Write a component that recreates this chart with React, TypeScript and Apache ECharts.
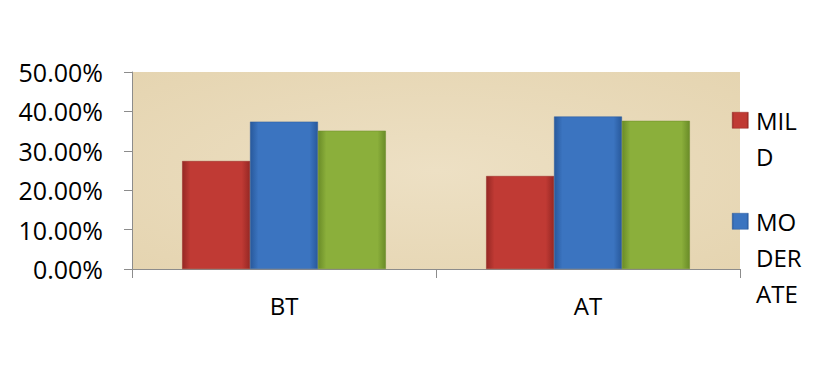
import React, { useEffect, useRef } from "react";
import * as echarts from "echarts";

const categories = ["BT", "AT"];
const seriesNames = ["MILD", "MODERATE", "SEVERE"];
const mildValues = [0.274, 0.236];
const moderateValues = [0.374, 0.387];
const severeValues = [0.351, 0.376];
const legendNames = ["MILD", "MODERATE"];
const legendLabels = ["MIL\nD", "MO\nDER\nATE"];

const baseColors = ["#C03A34", "#3B74C0", "#8BAF3B"];
const edgeColors = ["#962824", "#28599C", "#6A8C28"];

const FONT = "'Open Sans', 'DejaVu Sans', sans-serif";

export default function App() {
  const ref = useRef<HTMLDivElement>(null);
  useEffect(() => {
    document.body.style.margin = "0";
    const chart = echarts.init(ref.current!, null, { renderer: "svg" });
    const values = [mildValues, moderateValues, severeValues];
    const grad = (i: number) =>
      new echarts.graphic.LinearGradient(0, 0, 1, 0, [
        { offset: 0, color: edgeColors[i] },
        { offset: 0.12, color: baseColors[i] },
        { offset: 0.88, color: baseColors[i] },
        { offset: 1, color: edgeColors[i] },
      ]);
    const legendGraphics: any[] = [];
    const legendTops = [112, 213];
    legendNames.forEach((n, i) => {
      legendGraphics.push({
        type: "rect",
        left: 732,
        top: legendTops[i],
        shape: { width: 16, height: 16 },
        style: { fill: grad(i), stroke: edgeColors[i], lineWidth: 0.5 },
      });
      legendGraphics.push({
        type: "text",
        left: 756,
        top: legendTops[i] - 10,
        style: {
          text: legendLabels[i],
          font: `24px ${FONT}`,
          lineHeight: 36,
          fill: "#000",
        },
      });
    });
    chart.setOption({
      animation: false,
      backgroundColor: "#ffffff",
      grid: {
        left: 132,
        right: 79,
        top: 72,
        bottom: 98,
        show: true,
        backgroundColor: new echarts.graphic.RadialGradient(0.5, 0.5, 0.8, [
          { offset: 0, color: "#EDE0C4" },
          { offset: 1, color: "#E4D3AE" },
        ]),
        borderWidth: 0,
      },
      xAxis: {
        type: "category",
        data: categories,
        axisLine: { lineStyle: { color: "#8c8c8c", width: 1 } },
        axisTick: { show: true, length: 9, lineStyle: { color: "#8c8c8c" } },
        axisLabel: { color: "#000", fontSize: 24, fontFamily: FONT, margin: 24 },
      },
      yAxis: {
        type: "value",
        min: 0,
        max: 0.5,
        interval: 0.1,
        axisLine: { show: true, lineStyle: { color: "#8c8c8c", width: 1 } },
        axisTick: { show: true, length: 8, lineStyle: { color: "#8c8c8c" } },
        splitLine: { show: false },
        axisLabel: {
          color: "#000",
          fontSize: 25,
          fontFamily: FONT,
          margin: 29,
          formatter: (v: number) => (v * 100).toFixed(2) + "%",
        },
      },
      graphic: legendGraphics,
      series: seriesNames.map((name, i) => ({
        name,
        type: "bar",
        data: values[i],
        barGap: "0%",
        barCategoryGap: "33%",
        itemStyle: { color: grad(i), borderColor: edgeColors[i], borderWidth: 0.5 },
      })),
    });
    return () => chart.dispose();
  }, []);
  return <div ref={ref} style={{ width: 819, height: 367 }} />;
}
